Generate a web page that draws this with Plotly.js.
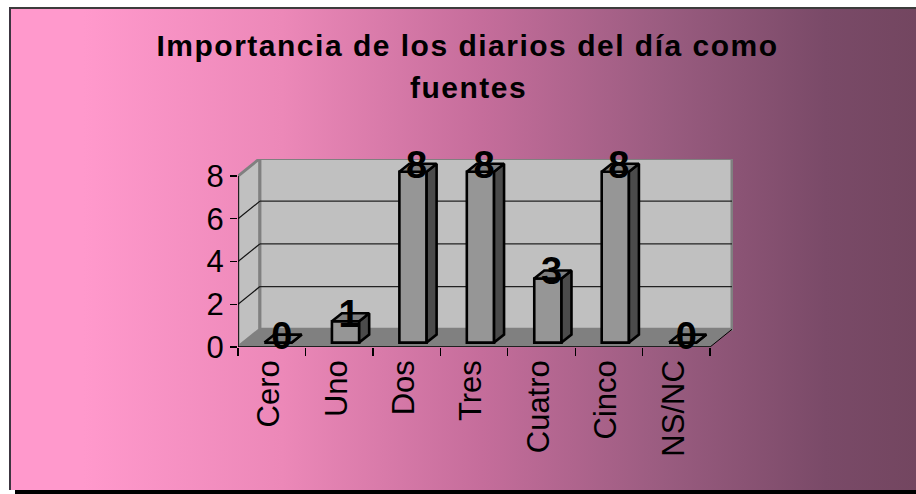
<!DOCTYPE html>
<html>
<head>
<meta charset="utf-8">
<script src="https://cdn.plot.ly/plotly-3.0.1.min.js"></script>
<style>
html,body{margin:0;padding:0;background:#fff;overflow:hidden}
#frame{position:absolute;left:9px;top:7px;width:907px;height:483px;box-sizing:border-box;border-left:2px solid #3c3440;border-top:2px solid #3c3c3c;
background:linear-gradient(90deg,#ff99cc 0%,#ff99cc 8%,#ec88b8 30%,#c56d9b 52%,#9a5c80 72%,#7a4a68 90%,#734660 100%)}
#shadow{position:absolute;left:15px;top:490px;width:901px;height:4px;background:#000}
#chart{position:absolute;left:0;top:0;width:916px;height:494px}
.gtitle,.annotation-text{letter-spacing:1.5px}
</style>
</head>
<body>
<div id="frame"></div><div id="shadow"></div><div id="chart"></div>
<script>
var titleLines = ['Importancia de los diarios del día como', 'fuentes'];
var categories = ['Cero', 'Uno', 'Dos', 'Tres', 'Cuatro', 'Cinco', 'NS/NC'];
var values = [0, 1, 8, 8, 3, 8, 0];
var yTicks = [0, 2, 4, 6, 8];

var depthX = 0.325, depthY = 0.828;
var barDX = 0.148, barDY = 0.374, barBase = 0.206, barOff = 0.595, barW = 0.404;
var n = categories.length;
var fontFam = '"Liberation Sans", Arial, sans-serif';

function poly(pts){ return pts.map(function(p,i){return (i?'L':'M')+p[0]+','+p[1];}).join(' ')+' Z'; }
function shape(path, fill, lineColor, lineW){
  return {type:'path', path:path, xref:'x', yref:'y', layer:'below', fillcolor:fill, line:{color:lineColor||'rgba(0,0,0,0)', width:lineW||0}};
}
function seg(x0,y0,x1,y1,c,w){
  return {type:'line', x0:x0,y0:y0,x1:x1,y1:y1,xref:'x',yref:'y',layer:'below',line:{color:c,width:w}};
}
var topY = yTicks[yTicks.length-1];
var shapes = [
  shape(poly([[0,0],[depthX,depthY],[depthX,topY+depthY],[0,topY]]), '#c0c0c0', '#808080', 3),
  shape(poly([[depthX,depthY],[n+depthX,depthY],[n+depthX,topY+depthY],[depthX,topY+depthY]]), '#c0c0c0', '#808080', 3),
  shape(poly([[0,0],[n,0],[n+depthX,depthY],[depthX,depthY]]), '#808080')
];
yTicks.forEach(function(v){
  if(v>0 && v<topY){
    shapes.push(seg(0,v,depthX,v+depthY,'#111',1.2));
    shapes.push(seg(depthX,v+depthY,n+depthX,v+depthY,'#222',1.2));
  }
});
shapes.push(seg(0,0,n,0,'#000',1.5));
shapes.push(seg(0,0,0,topY,'#000',1.5));
shapes.push(seg(n,0,n+depthX,depthY,'#000',1));

var barX = categories.map(function(c,i){return i+barOff;});
var sideX=[],sideY=[],topX=[],topYs=[];
values.forEach(function(v,i){
  var l=barX[i]-barW/2, r=barX[i]+barW/2, b=barBase, t=barBase+v;
  sideX.push(r,r+barDX,r+barDX,r,r,null);
  sideY.push(b,b+barDY,t+barDY,t,b,null);
  topX.push(l,r,r+barDX,l+barDX,l,null);
  topYs.push(t,t,t+barDY,t+barDY,t,null);
});

var traces = [
  {type:'bar', x:barX, y:values, base:barBase, width:barW, marker:{color:'#969696',line:{color:'#000',width:2.6}}, hoverinfo:'skip', showlegend:false},
  {type:'scatter', mode:'lines', x:sideX, y:sideY, fill:'toself', fillcolor:'#4b4b4b', line:{color:'#000',width:2.6}, hoverinfo:'skip', showlegend:false},
  {type:'scatter', mode:'lines', x:topX, y:topYs, fill:'toself', fillcolor:'#808080', line:{color:'#000',width:2.6}, hoverinfo:'skip', showlegend:false},
  {type:'scatter', mode:'text', x:barX.map(function(x){return x+0.053;}), y:values.map(function(v){return v+barBase+0.165;}),
   text:values.map(String), textposition:'middle center', textfont:{family:fontFam,size:38,color:'#000',weight:700}, cliponaxis:false, hoverinfo:'skip', showlegend:false}
];

var layout = {
  width:916, height:494,
  paper_bgcolor:'rgba(0,0,0,0)', plot_bgcolor:'rgba(0,0,0,0)',
  margin:{l:237.5, r:182.5, t:158.6, b:147.3, pad:0},
  showlegend:false, hovermode:false, barmode:'overlay',
  title:{text:titleLines[0], x:0.5104, xref:'container', xanchor:'center', y:0.907, yref:'container', yanchor:'middle',
         font:{family:fontFam,size:30,color:'#000',weight:700}},
  annotations:[{text:titleLines[1], xref:'paper', yref:'paper', x:(468-237.5)/496, y:1+(158.6-87)/188, xanchor:'center', yanchor:'middle', showarrow:false,
         font:{family:fontFam,size:30,color:'#000',weight:700}}],
  xaxis:{range:[0,7.34], showgrid:false, zeroline:false, showline:false, fixedrange:true,
    tickmode:'array', tickvals:categories.map(function(c,i){return i+0.46;}), ticktext:categories,
    tickangle:-90, ticks:'', ticklabelstandoff:6, tickfont:{family:fontFam,size:31,color:'#000'},
    minor:{tickmode:'array', tickvals:categories.map(function(c,i){return i;}).concat([n]), ticks:'outside', ticklen:8, tickwidth:1.3, tickcolor:'#000', showgrid:false}},
  yaxis:{range:[0,8.8], showgrid:false, zeroline:false, showline:false, fixedrange:true,
    tickmode:'array', tickvals:yTicks, ticktext:yTicks.map(String), ticks:'outside', ticklen:7, tickwidth:1.3, tickcolor:'#000',
    tickfont:{family:fontFam,size:31,color:'#000'}},
  shapes:shapes
};
Plotly.newPlot('chart', traces, layout, {displayModeBar:false, staticPlot:true});
</script>
</body>
</html>
